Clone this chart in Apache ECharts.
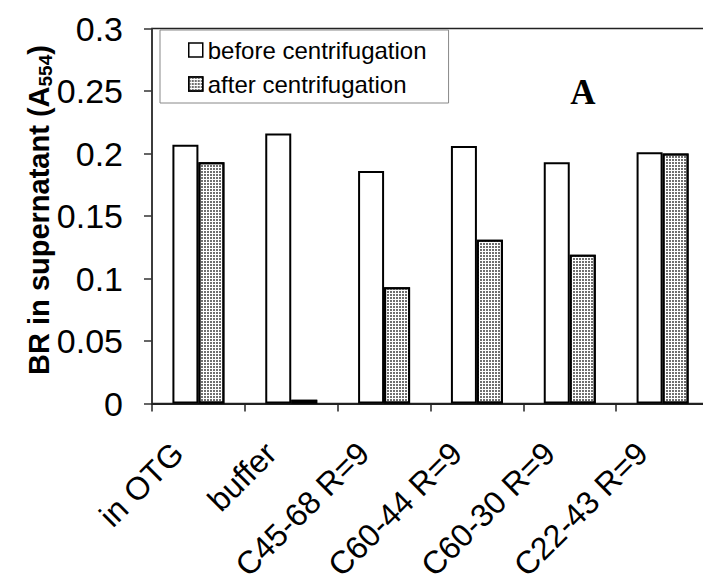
<!DOCTYPE html>
<html>
<head>
<meta charset="utf-8">
<script src="https://cdn.jsdelivr.net/npm/echarts@6/dist/echarts.min.js"></script>
<style>html,body{margin:0;padding:0;background:#fff;}#c{width:703px;height:585px;}</style>
</head>
<body>
<div id="c"></div>
<script>
const categories = ['in OTG', 'buffer', 'C45-68 R=9', 'C60-44 R=9', 'C60-30 R=9', 'C22-43 R=9'];
const beforeValues = [0.207, 0.216, 0.186, 0.206, 0.193, 0.201];
const afterValues = [0.193, 0.003, 0.093, 0.131, 0.119, 0.200];
const seriesNames = ['before centrifugation', 'after centrifugation'];
const yMin = 0, yMax = 0.3, yStep = 0.05;

const chart = echarts.init(document.getElementById('c'), null, {renderer: 'svg'});
const font = 'Arial, "Liberation Sans", Helvetica, sans-serif';
chart.setOption({
  animation: false,
  backgroundColor: '#fff',
  grid: {left: 152, right: -6, top: 28.5, bottom: 181.5, containLabel: false, outerBoundsMode: 'none', show: true, borderColor: '#222', borderWidth: 1.5, backgroundColor: 'transparent'},
  legend: {
    orient: 'vertical', left: 160, top: 30,
    padding: [8, 22, 7, 28], itemGap: 10, itemWidth: 14, itemHeight: 14,
    borderColor: '#888', borderWidth: 1, backgroundColor: '#fff',
    icon: 'rect',
    textStyle: {fontFamily: font, fontSize: 24, color: '#000', lineHeight: 24},
    itemStyle: {borderWidth: 1.5},
    data: seriesNames
  },
  xAxis: {
    type: 'category', data: categories,
    axisLine: {show: true, lineStyle: {color: '#222', width: 2}},
    axisTick: {show: true, length: 8, lineStyle: {color: '#222', width: 1.5}},
    axisLabel: {rotate: 45, interval: 0, margin: 24, padding: [0, 29, 0, 0], fontFamily: font, fontSize: 32, color: '#000'}
  },
  yAxis: {
    type: 'value', min: yMin, max: yMax, interval: yStep,
    splitLine: {show: false},
    axisLine: {show: true, lineStyle: {color: '#333', width: 1.5}},
    axisTick: {show: true, length: 8, lineStyle: {color: '#333', width: 1.5}},
    axisLabel: {margin: 29, fontFamily: font, fontSize: 34, color: '#000'}
  },
  series: [
    {
      name: seriesNames[0], type: 'bar', data: beforeValues, barWidth: 26, barGap: '0%',
      itemStyle: {color: '#fff', borderColor: '#000', borderWidth: 2}
    },
    {
      name: seriesNames[1], type: 'bar', data: afterValues, barWidth: 26, barGap: '0%',
      itemStyle: {
        color: '#fff', borderColor: '#000', borderWidth: 2,
        decal: {symbol: 'rect', symbolSize: 1, dashArrayX: [2, 1], dashArrayY: [2, 1], color: '#707070', rotation: 0}
      }
    }
  ],
  graphic: [
    {
      type: 'text', x: 39, y: 210, rotation: Math.PI / 2,
      style: {
        text: '{a|BR in supernatant (A}{s|554}{a|)}',
        align: 'center', verticalAlign: 'middle',
        rich: {
          a: {fontFamily: font, fontSize: 29, fontWeight: 'bold', color: '#000', lineHeight: 32},
          s: {fontFamily: font, fontSize: 19, fontWeight: 'bold', color: '#000', lineHeight: 18, verticalAlign: 'bottom'}
        }
      }
    },
    {
      type: 'text', x: 583, y: 92,
      style: {text: 'A', fontFamily: '"Liberation Serif", "Times New Roman", serif', fontSize: 35, fontWeight: 'bold', fill: '#000', align: 'center', verticalAlign: 'middle'}
    }
  ]
});
</script>
</body>
</html>
